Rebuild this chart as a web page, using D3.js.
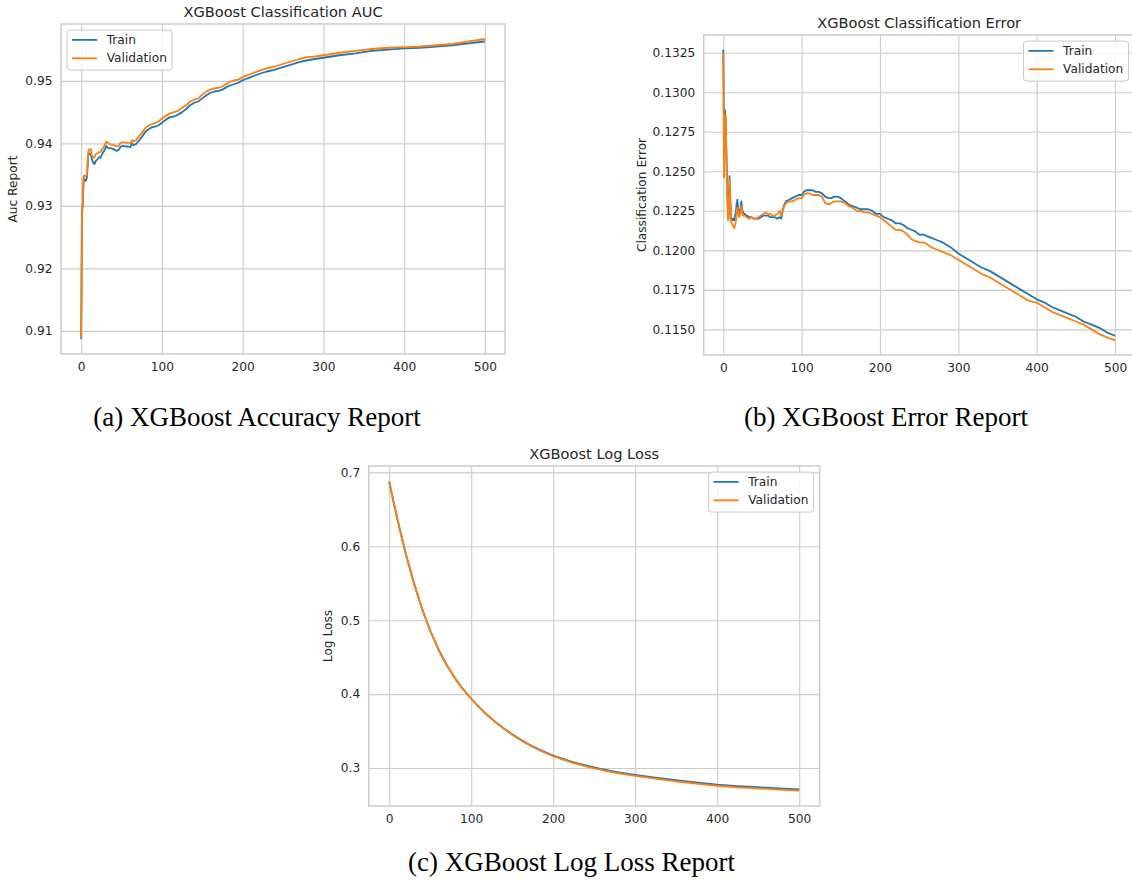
<!DOCTYPE html>
<html>
<head>
<meta charset="utf-8">
<script src="https://cdn.jsdelivr.net/npm/d3@7"></script>
<style>
  html, body { margin: 0; padding: 0; background: #ffffff; }
  svg { display: block; }
</style>
</head>
<body>
<svg id="fig" width="1132" height="881"></svg>
<script>
// ---------- (a) AUC per boosting round ----------
const aucIter  = [0,1,2,3,4,5,6,7,8,9,10,11,12,13,14,15,16,17,18,20,22,24,26,28,30,31,33,35,38,41,44,46,49,52,55,58,61,63,65,68,72,76,80,84,88,92,96,100,105,110,115,120,125,130,135,140,145,150,155,160,165,170,175,180,185,190,195,200,210,220,230,240,250,260,270,280,290,300,320,340,360,380,400,420,440,460,480,500];
const aucTrain = [0.9087,0.9290,0.9300,0.9341,0.9343,0.9340,0.9341,0.9345,0.9362,0.9383,0.9384,0.9383,0.9382,0.9376,0.9372,0.9369,0.9367,0.9368,0.9372,0.9374,0.9378,0.9377,0.9383,0.9387,0.9392,0.9396,0.9393,0.9392,0.9392,0.9390,0.9388,0.9389,0.9395,0.9396,0.9395,0.9395,0.9394,0.9400,0.9397,0.9399,0.9405,0.9412,0.9419,0.9423,0.9426,0.9427,0.9429,0.9433,0.9438,0.9442,0.9443,0.9446,0.9450,0.9455,0.9461,0.9465,0.9467,0.9472,0.9477,0.9481,0.9483,0.9484,0.9486,0.9490,0.9493,0.9495,0.9497,0.9501,0.9506,0.9511,0.9515,0.9518,0.9522,0.9526,0.9530,0.9533,0.9535,0.9537,0.9541,0.9544,0.9548,0.9550,0.9552,0.9553,0.9555,0.9557,0.9560,0.9563];
const aucValid = [0.9089,0.9296,0.9310,0.9347,0.9349,0.9347,0.9348,0.9350,0.9370,0.9389,0.9390,0.9391,0.9390,0.9381,0.9380,0.9378,0.9377,0.9379,0.9383,0.9384,0.9386,0.9386,0.9391,0.9394,0.9400,0.9403,0.9401,0.9399,0.9398,0.9397,0.9395,0.9396,0.9401,0.9402,0.9401,0.9401,0.9400,0.9405,0.9403,0.9405,0.9412,0.9418,0.9425,0.9429,0.9431,0.9433,0.9435,0.9440,0.9444,0.9448,0.9450,0.9452,0.9457,0.9461,0.9467,0.9470,0.9472,0.9478,0.9483,0.9486,0.9488,0.9489,0.9491,0.9495,0.9499,0.9501,0.9502,0.9506,0.9511,0.9516,0.9520,0.9523,0.9527,0.9531,0.9535,0.9538,0.9539,0.9541,0.9545,0.9548,0.9551,0.9553,0.9554,0.9555,0.9557,0.9559,0.9563,0.9567];
const aucYTicks = [0.91, 0.92, 0.93, 0.94, 0.95];

// ---------- (b) classification error per boosting round ----------
const errIter  = [0,1,2,3,4,5,6,7,8,9,10,11,12,13,14,15,16,17,18,19,20,21,22,23,24,25,27,30,33,36,39,42,45,48,51,54,57,60,63,66,69,72,74,76,78,80,84,88,92,96,100,103,106,110,114,118,122,126,130,134,138,142,146,150,155,160,165,170,175,180,185,190,195,200,205,210,215,220,225,230,235,240,245,250,255,260,265,270,280,290,300,310,320,330,340,350,360,370,380,390,400,410,420,430,440,450,460,470,480,490,500];
const errTrain = [0.1327,0.1270,0.1289,0.1284,0.1262,0.1240,0.1222,0.1224,0.1247,0.1231,0.1221,0.1220,0.1219,0.1220,0.1219,0.1222,0.1224,0.1229,0.1232,0.1226,0.1223,0.1224,0.1227,0.1231,0.1226,0.1224,0.1223,0.1222,0.1221,0.1221,0.1220,0.1220,0.1220,0.1221,0.1222,0.1222,0.1222,0.1221,0.1221,0.1221,0.1220,0.1221,0.1220,0.1226,0.1229,0.1231,0.1232,0.1233,0.1234,0.1235,0.1235,0.1237,0.1238,0.1238,0.1238,0.1237,0.1237,0.1236,0.1234,0.1233,0.1233,0.1234,0.1234,0.1233,0.1231,0.1229,0.1228,0.1227,0.1226,0.1226,0.1226,0.1225,0.1223,0.1223,0.1221,0.1220,0.1219,0.1217,0.1217,0.1216,0.1214,0.1213,0.1212,0.1210,0.1210,0.1209,0.1208,0.1207,0.1205,0.1202,0.1198,0.1195,0.1192,0.1189,0.1187,0.1184,0.1181,0.1178,0.1175,0.1172,0.1169,0.1167,0.1164,0.1162,0.1160,0.1158,0.1155,0.1153,0.1151,0.1148,0.1146];
const errValid = [0.1325,0.1246,0.1286,0.1282,0.1258,0.1236,0.1219,0.1220,0.1245,0.1229,0.1218,0.1217,0.1216,0.1215,0.1214,0.1216,0.1218,0.1224,0.1227,0.1224,0.1221,0.1222,0.1224,0.1228,0.1224,0.1222,0.1222,0.1221,0.1220,0.1221,0.1220,0.1220,0.1221,0.1222,0.1223,0.1224,0.1223,0.1223,0.1222,0.1222,0.1223,0.1225,0.1222,0.1225,0.1228,0.1230,0.1231,0.1231,0.1232,0.1233,0.1233,0.1235,0.1236,0.1236,0.1235,0.1235,0.1235,0.1234,0.1230,0.1229,0.1230,0.1231,0.1231,0.1231,0.1230,0.1228,0.1227,0.1225,0.1225,0.1224,0.1224,0.1223,0.1222,0.1221,0.1219,0.1217,0.1215,0.1213,0.1213,0.1212,0.1210,0.1207,0.1206,0.1205,0.1205,0.1204,0.1202,0.1201,0.1199,0.1197,0.1194,0.1191,0.1188,0.1185,0.1183,0.1180,0.1177,0.1174,0.1171,0.1168,0.1167,0.1164,0.1161,0.1159,0.1157,0.1155,0.1153,0.1150,0.1147,0.1145,0.1143];
const errYTicks = [0.1150, 0.1175, 0.1200, 0.1225, 0.1250, 0.1275, 0.1300, 0.1325];

// ---------- (c) log loss per boosting round ----------
const lossIter  = [0,5,10,15,20,30,40,50,60,70,80,90,100,110,120,130,140,150,160,170,180,190,200,210,220,230,240,250,260,270,280,290,300,320,340,360,380,400,425,450,475,500];
const lossTrain = [0.6877,0.6615,0.6367,0.6135,0.5907,0.5507,0.5157,0.4857,0.4607,0.4397,0.4217,0.4067,0.3937,0.3819,0.3713,0.3618,0.3533,0.3455,0.3385,0.3322,0.3265,0.3214,0.3168,0.3129,0.3094,0.3062,0.3034,0.3007,0.2983,0.2962,0.2942,0.2925,0.2908,0.2878,0.2849,0.2823,0.2797,0.2776,0.2756,0.2740,0.2725,0.2712];
const lossValid = [0.6877,0.6615,0.6367,0.6135,0.5907,0.5507,0.5157,0.4857,0.4607,0.4397,0.4217,0.4067,0.3937,0.3819,0.3713,0.3617,0.3530,0.3451,0.3380,0.3316,0.3258,0.3206,0.3159,0.3119,0.3083,0.3051,0.3022,0.2995,0.2971,0.2949,0.2929,0.2911,0.2894,0.2863,0.2834,0.2807,0.2781,0.2760,0.2739,0.2723,0.2708,0.2695];
const lossYTicks = [0.3, 0.4, 0.5, 0.6, 0.7];

const iterTicks = [0, 100, 200, 300, 400, 500];
const seriesNames = ["Train", "Validation"];
const seriesColors = ["#1f77b4", "#ff7f0e"];

const svg = d3.select("#fig");
const TEXT = "#262626";
const GRID = "#cccccc";
const SANS = "DejaVu Sans, sans-serif";
const TICK_FS = 12.2;

function drawPanel(p) {
  const g = svg.append("g");
  const [i0, i1] = d3.extent(p.iter);
  const ipad = (i1 - i0) * 0.05;
  const x = d3.scaleLinear().domain([i0 - ipad, i1 + ipad]).range([p.left, p.right]);
  const [v0, v1] = d3.extent(p.train.concat(p.valid));
  const vpad = (v1 - v0) * 0.05;
  const y = d3.scaleLinear().domain([v0 - vpad, v1 + vpad]).range([p.bottom, p.top]);
  const w = p.right - p.left, h = p.bottom - p.top;

  const styleAxis = a => {
    a.select(".domain").remove();
    a.selectAll(".tick line").attr("stroke", GRID).attr("stroke-width", 1.1);
    a.selectAll(".tick text").attr("fill", TEXT).attr("font-size", TICK_FS).attr("font-family", SANS);
  };

  g.append("g")
    .attr("transform", `translate(0,${p.bottom})`)
    .call(d3.axisBottom(x).tickValues(iterTicks).tickSizeInner(-h).tickSizeOuter(0).tickPadding(8.5).tickFormat(d3.format("d")))
    .call(styleAxis);

  g.append("g")
    .attr("transform", `translate(${p.left},0)`)
    .call(d3.axisLeft(y).tickValues(p.yTicks).tickSizeInner(-w).tickSizeOuter(0).tickPadding(8.5).tickFormat(d3.format(p.fmt)))
    .call(styleAxis);

  // axes frame
  g.append("rect")
    .attr("x", p.left).attr("y", p.top).attr("width", w).attr("height", h)
    .attr("fill", "none").attr("stroke", GRID).attr("stroke-width", 1.5);

  const line = d3.line().x(d => x(d[0])).y(d => y(d[1]));
  [p.train, p.valid].forEach((vals, k) => {
    g.append("path")
      .datum(p.iter.map((it, j) => [it, vals[j]]))
      .attr("d", line)
      .attr("fill", "none")
      .attr("stroke", seriesColors[k])
      .attr("stroke-width", 1.8)
      .attr("stroke-linejoin", "round")
      .attr("stroke-linecap", "butt");
  });

  // title
  g.append("text")
    .attr("x", (p.left + p.right) / 2).attr("y", p.top - 7.3)
    .attr("text-anchor", "middle").attr("fill", TEXT)
    .attr("font-size", 14.6).attr("font-family", SANS)
    .text(p.title);

  // y label
  g.append("text")
    .attr("transform", `translate(${p.ylabelX},${(p.top + p.bottom) / 2}) rotate(-90)`)
    .attr("text-anchor", "middle").attr("dominant-baseline", "central")
    .attr("fill", TEXT).attr("font-size", TICK_FS).attr("font-family", SANS)
    .text(p.ylabel);

  // legend
  const lw = 105, lh = 40, pad = 6.1;
  const lx = p.legendLoc === "left" ? p.left + pad : p.right - pad - lw;
  const ly = p.top + pad;
  const lg = g.append("g").attr("transform", `translate(${lx},${ly})`);
  lg.append("rect").attr("width", lw).attr("height", lh).attr("rx", 3)
    .attr("fill", "#ffffff").attr("fill-opacity", 0.8)
    .attr("stroke", GRID).attr("stroke-width", 1);
  seriesNames.forEach((name, k) => {
    const ry = 9.8 + k * 18.4;
    lg.append("line").attr("x1", 4.9).attr("x2", 29.9).attr("y1", ry).attr("y2", ry)
      .attr("stroke", seriesColors[k]).attr("stroke-width", 1.8);
    lg.append("text").attr("x", 39.6).attr("y", ry).attr("dominant-baseline", "central")
      .attr("fill", TEXT).attr("font-size", TICK_FS).attr("font-family", SANS).text(name);
  });

  // caption
  svg.append("text")
    .attr("x", p.capX).attr("y", p.capY)
    .attr("text-anchor", "middle").attr("fill", "#000000")
    .attr("font-size", 27).attr("font-family", "Liberation Serif, Times New Roman, serif")
    .text(p.caption);
}

drawPanel({
  iter: aucIter, train: aucTrain, valid: aucValid, yTicks: aucYTicks, fmt: ".2f",
  left: 61, right: 505, top: 24, bottom: 354,
  title: "XGBoost Classification AUC", ylabel: "Auc Report", ylabelX: 13.3,
  legendLoc: "left",
  caption: "(a) XGBoost Accuracy Report", capX: 257, capY: 426
});

drawPanel({
  iter: errIter, train: errTrain, valid: errValid, yTicks: errYTicks, fmt: ".4f",
  left: 703.7, right: 1134.6, top: 35, bottom: 355,
  title: "XGBoost Classification Error", ylabel: "Classification Error", ylabelX: 642.4,
  legendLoc: "right",
  caption: "(b) XGBoost Error Report", capX: 886, capY: 426
});

drawPanel({
  iter: lossIter, train: lossTrain, valid: lossValid, yTicks: lossYTicks, fmt: ".1f",
  left: 368.7, right: 819.7, top: 466, bottom: 806,
  title: "XGBoost Log Loss", ylabel: "Log Loss", ylabelX: 328.4,
  legendLoc: "right",
  caption: "(c) XGBoost Log Loss Report", capX: 571.5, capY: 871
});
</script>
</body>
</html>
